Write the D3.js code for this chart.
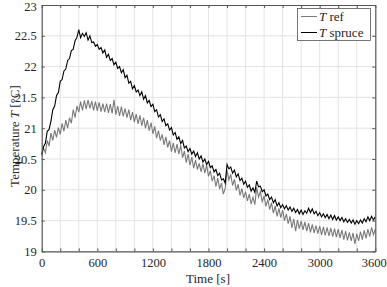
<!DOCTYPE html>
<html><head><meta charset="utf-8">
<script src="https://cdn.jsdelivr.net/npm/d3@7"></script>
<style>body{margin:0;background:#fff}svg{display:block}</style>
</head><body><svg id="c" width="387" height="287"></svg>
<script>
const timeStep = 20; // seconds between samples, t = 0..3600
const tRef = [
20.55,20.68,20.60,20.80,20.71, 20.92,20.80,20.97,20.85,21.01, 20.90,21.08,20.95,21.13,21.00,
21.17,21.08,21.30,21.17,21.36, 21.26,21.43,21.29,21.45,21.31, 21.46,21.32,21.44,21.29,21.43,
21.28,21.42,21.27,21.40,21.26, 21.40,21.25,21.39,21.24,21.46, 21.22,21.36,21.20,21.35,21.19,
21.32,21.17,21.30,21.13,21.26, 21.10,21.23,21.07,21.21,21.04, 21.17,21.00,21.13,20.96,21.09,
20.91,21.03,20.84,20.96,20.80, 20.90,20.73,20.86,20.69,20.80, 20.62,20.76,20.60,20.74,20.58,
20.72,20.52,20.63,20.44,20.58, 20.40,20.53,20.35,20.48,20.33, 20.43,20.29,20.42,20.27,20.40,
20.22,20.31,20.14,20.23,20.05, 20.19,20.01,20.11,19.93,20.02, 20.32,20.16,20.25,20.07,20.17,
19.99,20.09,19.91,20.02,19.87, 19.97,19.82,19.93,19.77,19.88, 19.76,20.04,19.88,19.97,19.81,
19.90,19.73,19.84,19.68,19.79, 19.62,19.74,19.57,19.70,19.55, 19.67,19.50,19.61,19.45,19.57,
19.38,19.53,19.33,19.51,19.37, 19.49,19.35,19.48,19.33,19.46, 19.31,19.44,19.30,19.42,19.29,
19.41,19.27,19.40,19.26,19.39, 19.25,19.38,19.24,19.37,19.23, 19.36,19.22,19.35,19.19,19.33,
19.18,19.31,19.17,19.30,19.12, 19.29,19.17,19.32,19.19,19.34, 19.21,19.36,19.24,19.39,19.27,
19.36];
const tSpruce = [
20.58,20.70,20.76,20.95,20.98, 21.12,21.30,21.36,21.53,21.58, 21.76,21.79,21.93,21.96,22.10,
22.13,22.26,22.28,22.42,22.47, 22.60,22.47,22.54,22.49,22.55, 22.43,22.50,22.39,22.40,22.33,
22.36,22.28,22.31,22.22,22.27, 22.15,22.20,22.10,22.13,22.03, 22.07,21.97,22.00,21.90,21.95,
21.82,21.86,21.73,21.76,21.64, 21.69,21.59,21.62,21.53,21.59, 21.47,21.53,21.41,21.45,21.35,
21.39,21.27,21.30,21.18,21.22, 21.11,21.15,21.04,21.07,20.97, 21.01,20.89,20.93,20.82,20.86,
20.75,20.80,20.68,20.71,20.62, 20.67,20.58,20.63,20.54,20.60, 20.50,20.55,20.45,20.50,20.41,
20.46,20.36,20.39,20.29,20.33, 20.23,20.27,20.16,20.18,20.11, 20.41,20.34,20.37,20.27,20.32,
20.21,20.26,20.15,20.19,20.09, 20.14,20.04,20.08,19.98,20.03, 19.96,20.14,20.05,20.06,19.97,
20.00,19.90,19.93,19.84,19.88, 19.79,19.84,19.74,19.79,19.71, 19.76,19.69,19.74,19.67,19.72,
19.65,19.70,19.63,19.68,19.61, 19.67,19.60,19.66,19.62,19.70, 19.63,19.69,19.61,19.65,19.58,
19.63,19.56,19.61,19.55,19.60, 19.53,19.59,19.52,19.58,19.51, 19.56,19.50,19.55,19.48,19.53,
19.47,19.52,19.46,19.51,19.44, 19.50,19.45,19.51,19.46,19.53, 19.48,19.56,19.50,19.57,19.51,
19.56];
const xTickLabels = [0,600,1200,1800,2400,3000,3600];
const xMinorTicks = d3.range(0,3601,200);
const yTickLabels = [19,19.5,20,20.5,21,21.5,22,22.5,23];
const seriesNames = ["ref","spruce"];

const FONT = "'Liberation Serif','Times New Roman',serif";
const svg = d3.select("#c");
const L=41.7, R=375.3, T=5, B=251.4;
const x = d3.scaleLinear().domain([0,3600]).range([L,R]);
const y = d3.scaleLinear().domain([19,23]).range([B,T]);
const time = tRef.map((_,i)=>i*timeStep);

// grid
const g = svg.append("g");
g.selectAll(".vg").data(xMinorTicks.slice(1,-1)).join("line")
 .attr("x1",d=>x(d)).attr("x2",d=>x(d)).attr("y1",T).attr("y2",B)
 .attr("stroke","#e3e3e3").attr("stroke-width",1);
g.selectAll(".hg").data(yTickLabels.slice(1,-1)).join("line")
 .attr("x1",L).attr("x2",R).attr("y1",d=>y(d)).attr("y2",d=>y(d))
 .attr("stroke","#e3e3e3").attr("stroke-width",1);

// lines
const line = d3.line().x((d,i)=>x(time[i])).y(d=>y(d));
svg.append("path").datum(tRef).attr("d",line).attr("fill","none").attr("stroke","#7a7a7a").attr("stroke-width",1.1);
svg.append("path").datum(tSpruce).attr("d",line).attr("fill","none").attr("stroke","#000").attr("stroke-width",1.1);

// axes
const xb = svg.append("g").attr("transform",`translate(0,${B})`)
 .call(d3.axisBottom(x).tickValues(xMinorTicks).tickSizeInner(-3).tickSizeOuter(0).tickFormat(d=>xTickLabels.includes(d)?d:""));
const xt = svg.append("g").attr("transform",`translate(0,${T})`)
 .call(d3.axisTop(x).tickValues(xMinorTicks).tickSizeInner(-3).tickSizeOuter(0).tickFormat(""));
const yl = svg.append("g").attr("transform",`translate(${L},0)`)
 .call(d3.axisLeft(y).tickValues(yTickLabels).tickSizeInner(-3).tickSizeOuter(0).tickFormat(d=>d));
const yr = svg.append("g").attr("transform",`translate(${R},0)`)
 .call(d3.axisRight(y).tickValues(yTickLabels).tickSizeInner(-3).tickSizeOuter(0).tickFormat(""));
[xb,xt,yl,yr].forEach(a=>{
  a.attr("font-family",null).attr("font-size",null);
  a.select(".domain").attr("stroke","#555").attr("stroke-width",1.2);
  a.selectAll(".tick line").attr("stroke","#555");
  a.selectAll("text").attr("fill","#262626").style("font-size","12.5px").style("font-family",FONT);
});
xb.selectAll("text").attr("dy",null).attr("y",15.5);
xb.selectAll("text").filter(d=>d===3600).attr("x",-1.5);
yl.selectAll("text").attr("x",-5);
yl.selectAll("text").filter(d=>d===23).attr("dy","0.42em");

// labels
svg.append("text").attr("x",208).attr("y",283).attr("text-anchor","middle")
 .style("font-size","13px").style("font-family",FONT).attr("fill","#262626").text("Time [s]");
const yt = svg.append("text").attr("transform","translate(19,136) rotate(-90)").attr("text-anchor","middle")
 .style("font-size","13px").style("font-family",FONT).attr("fill","#262626");
yt.append("tspan").text("Temperature ");
yt.append("tspan").attr("font-style","italic").text("T");
yt.append("tspan").text(" [°C]");

// legend
const lg = svg.append("g");
lg.append("rect").attr("x",297.5).attr("y",8.5).attr("width",73).attr("height",32).attr("fill","#fff").attr("stroke","#555").attr("stroke-width",0.8);
const cols=["#7a7a7a","#000"];
seriesNames.forEach((n,i)=>{
  const yy = 16.5+i*16;
  lg.append("line").attr("x1",301).attr("x2",317).attr("y1",yy).attr("y2",yy).attr("stroke",cols[i]).attr("stroke-width",1);
  const t = lg.append("text").attr("x",319).attr("y",yy+4).style("font-size","13px").style("font-family",FONT).attr("fill","#262626");
  t.append("tspan").attr("font-style","italic").text("T");
  t.append("tspan").text(" "+n);
});
</script></body></html>
